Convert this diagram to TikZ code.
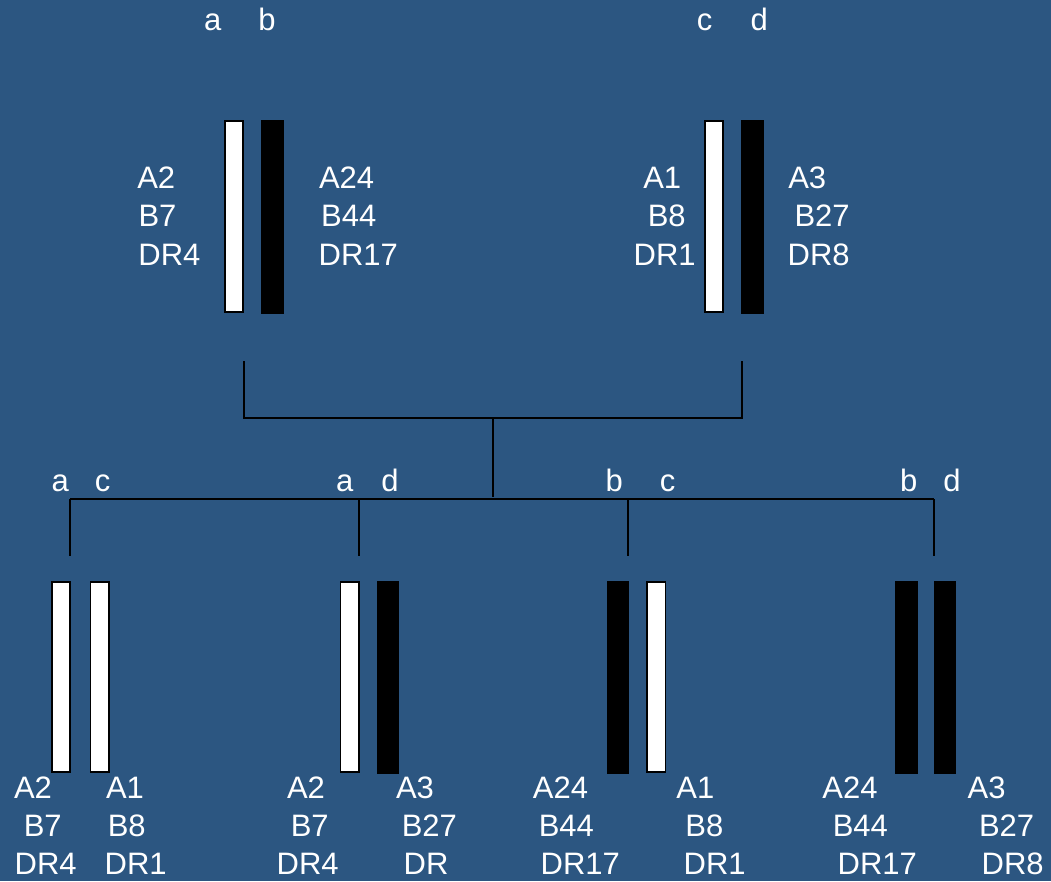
\documentclass[tikz,border=0pt]{standalone}
\usepackage{fontspec}
\setmainfont{Liberation Sans}
\definecolor{bgblue}{RGB}{44,86,129}
\begin{document}
\begin{tikzpicture}[x=1pt,y=-1pt,
  lbl/.style={anchor=base west,inner sep=0pt,outer sep=0pt,text=white,font=\fontsize{31}{35}\selectfont},
  whitebar/.style={draw=black,line width=1.6pt,fill=white,inner sep=0pt,outer sep=0pt,anchor=north west},
  blackbar/.style={draw=black,line width=0.1pt,fill=black,inner sep=0pt,outer sep=0pt,anchor=north west},
  conn/.style={draw=black,line width=2pt}]
\fill[bgblue] (0,0) rectangle (1051,881);
\useasboundingbox (0,0) rectangle (1051,881);
% ---- top bars ----
\node[whitebar,minimum width=18.4pt,minimum height=191.4pt] (ta) at (224.8,120.8) {};
\node[blackbar,minimum width=22pt,minimum height=193pt] (tb) at (261,120) {};
\node[whitebar,minimum width=18.4pt,minimum height=191.4pt] (tc) at (704.8,120.8) {};
\node[blackbar,minimum width=22pt,minimum height=193pt] (td) at (741,120) {};
% ---- bottom bars ----
\node[whitebar,minimum width=18.4pt,minimum height=190.4pt] (p1a) at (51.8,581.8) {};
\node[whitebar,minimum width=18.4pt,minimum height=190.4pt] (p1c) at (90.3,581.8) {};
\node[whitebar,minimum width=18.4pt,minimum height=190.4pt] (p2a) at (340.3,581.8) {};
\node[blackbar,minimum width=21.5pt,minimum height=192pt] (p2d) at (377,581) {};
\node[blackbar,minimum width=21pt,minimum height=192pt] (p3b) at (607.5,581) {};
\node[whitebar,minimum width=18.4pt,minimum height=190.4pt] (p3c) at (647,581.8) {};
\node[blackbar,minimum width=21.5pt,minimum height=192pt] (p4b) at (895.3,581) {};
\node[blackbar,minimum width=21.5pt,minimum height=192pt] (p4d) at (933.7,581) {};
% ---- connectors ----
\coordinate (l1) at (244,361);
\coordinate (l2) at (244,418);
\coordinate (r1) at (742,361);
\coordinate (r2) at (742,418);
\coordinate (m1) at (493,418);
\coordinate (m2) at (493,497);
\coordinate (h1) at (70,499);
\coordinate (h2) at (934,499);
\coordinate (d1a) at (70,499);
\coordinate (d1b) at (70,556);
\coordinate (d2a) at (358.5,499);
\coordinate (d2b) at (358.5,556);
\coordinate (d3a) at (627.5,499);
\coordinate (d3b) at (627.5,556);
\coordinate (d4a) at (934,499);
\coordinate (d4b) at (934,556);
\draw[conn] (l1) -- (l2) -- (r2) -- (r1);
\draw[conn] (m1) -- (m2);
\draw[conn] (h1) -- (h2);
\draw[conn] (d2a) -- (d2b);
\draw[conn] (d3a) -- (d3b);
\draw[conn] (d4a) -- (d4b);
\draw[conn] (d1a) -- (d1b);
% ---- top letters ----
\node[lbl] (la) at (204,30) {a};
\node[lbl] (lb) at (258.3,30) {b};
\node[lbl] (lc) at (696.8,30) {c};
\node[lbl] (ld) at (750.7,30) {d};
% ---- lower letters ----
\node[lbl] (l1a) at (51.6,491) {a};
\node[lbl] (l1c) at (94.8,491) {c};
\node[lbl] (l2a) at (336.2,491) {a};
\node[lbl] (l2d) at (381.3,491) {d};
\node[lbl] (l3b) at (605.6,491) {b};
\node[lbl] (l3c) at (659.8,491) {c};
\node[lbl] (l4b) at (900,491) {b};
\node[lbl] (l4d) at (943.3,491) {d};
% ---- top left labels ----
\node[lbl] (t1) at (137.3,188) {A2};
\node[lbl] (t2) at (138.5,226) {B7};
\node[lbl] (t3) at (138.4,265) {DR4};
\node[lbl] (t4) at (319,188) {A24};
\node[lbl] (t5) at (321.1,226) {B44};
\node[lbl] (t6) at (318.7,265) {DR17};
% ---- top right labels ----
\node[lbl] (t7) at (643.3,188) {A1};
\node[lbl] (t8) at (647.8,226) {B8};
\node[lbl] (t9) at (633.7,265) {DR1};
\node[lbl] (t10) at (788.3,188) {A3};
\node[lbl] (t11) at (794.5,226) {B27};
\node[lbl] (t12) at (787.7,265) {DR8};
% ---- bottom labels ----
\node[lbl] (b1) at (14,798) {A2};
\node[lbl] (b2) at (23.8,836) {B7};
\node[lbl] (b3) at (14.7,874) {DR4};
\node[lbl] (b4) at (106,798) {A1};
\node[lbl] (b5) at (107.8,836) {B8};
\node[lbl] (b6) at (104.7,874) {DR1};
\node[lbl] (b7) at (287,798) {A2};
\node[lbl] (b8) at (290.8,836) {B7};
\node[lbl] (b9) at (276.7,874) {DR4};
\node[lbl] (b10) at (396,798) {A3};
\node[lbl] (b11) at (401.8,836) {B27};
\node[lbl] (b12) at (403.7,874) {DR};
\node[lbl] (b13) at (532.9,798) {A24};
\node[lbl] (b14) at (538.8,836) {B44};
\node[lbl] (b15) at (540.7,874) {DR17};
\node[lbl] (b16) at (676.4,798) {A1};
\node[lbl] (b17) at (685.4,836) {B8};
\node[lbl] (b18) at (683.7,874) {DR1};
\node[lbl] (b19) at (822.4,798) {A24};
\node[lbl] (b20) at (832.8,836) {B44};
\node[lbl] (b21) at (837.7,874) {DR17};
\node[lbl] (b22) at (967.7,798) {A3};
\node[lbl] (b23) at (979,836) {B27};
\node[lbl] (b24) at (981.7,874) {DR8};
\end{tikzpicture}
\end{document}
